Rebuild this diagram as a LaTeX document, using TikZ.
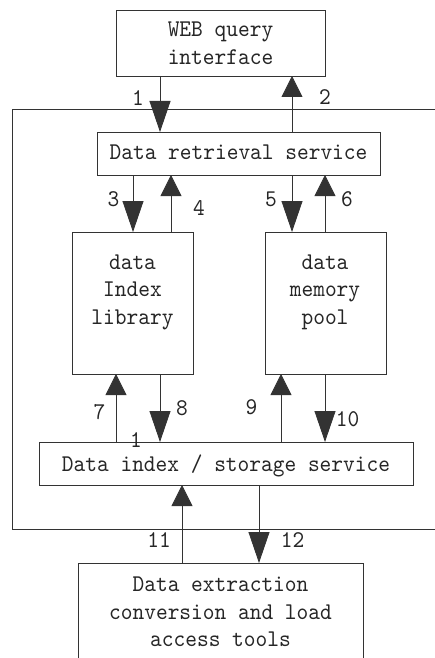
\documentclass[tikz,border=0pt]{standalone}
\usepackage{fontspec}
\usetikzlibrary{arrows.meta}
\newfontfamily\diagfont{lmmono10-regular.otf}[FakeStretch=0.93]

\tikzset{
  box/.style={draw=black!80, line width=0.8pt, rectangle, inner sep=0pt, outer sep=0pt, anchor=north west},
  txt/.style={inner sep=0pt, align=center, text=black!85, font=\diagfont\fontsize{24}{27.5}\selectfont},
  num/.style={inner sep=0pt, text=black!85, font=\diagfont\fontsize{24}{27.5}\selectfont},
  wire/.style={draw=black!80, line width=0.8pt},
  dn/.style={wire, -{Triangle[length=31pt, width=21pt]}},
  up/.style={wire, -{Triangle[length=21pt, width=21pt]}},
}

\begin{document}
\begin{tikzpicture}[x=1pt, y=-1pt]
  \useasboundingbox (0,0) rectangle (435,658);
  \clip (0,0) rectangle (435,658);

  % outer service frame, open towards the right edge
  \draw[wire] (440,109) -- (12,109) -- (12,529) -- (440,529);

  % boxes
  \node[box, minimum width=209pt, minimum height=66pt]  (web) at (116,10)  {};
  \node[box, minimum width=283pt, minimum height=43pt]  (ret) at (97,132)  {};
  \node[box, minimum width=121pt, minimum height=142pt] (lib) at (72,232)  {};
  \node[box, minimum width=121pt, minimum height=142pt] (mem) at (265,232) {};
  \node[box, minimum width=374pt, minimum height=43pt]  (sto) at (39,442)  {};
  \node[box, minimum width=285pt, minimum height=130pt] (etl) at (78,563)  {};

  % box texts
  \node[txt] (webtxt) at (220.5,43)   {WEB query\\interface};
  \node[txt] (rettxt) at (238.5,152.5) {Data retrieval service};
  \node[txt] (libtxt) at (132.5,292)  {data\\Index\\library};
  \node[txt] (memtxt) at (325,292)    {data\\memory\\pool};
  \node[txt] (stotxt) at (226,465.5)  {Data index / storage service};
  \node[txt] (etltxt) at (220.5,612)  {Data extraction\\conversion and load\\access tools};

  % connector columns
  \coordinate (c1)  at (160,0);
  \coordinate (c2)  at (292,0);
  \coordinate (c3)  at (133,0);
  \coordinate (c4)  at (171,0);
  \coordinate (c5)  at (292,0);
  \coordinate (c6)  at (325,0);
  \coordinate (c7)  at (116,0);
  \coordinate (c8)  at (160,0);
  \coordinate (c9)  at (281,0);
  \coordinate (c10) at (325,0);
  \coordinate (c11) at (182,0);
  \coordinate (c12) at (259,0);

  % connectors
  \draw[dn] (web.south -| c1)  -- (ret.north -| c1);
  \draw[up] (ret.north -| c2)  -- (web.south -| c2);
  \draw[dn] (ret.south -| c3)  -- (lib.north -| c3);
  \draw[up] (lib.north -| c4)  -- (ret.south -| c4);
  \draw[dn] (ret.south -| c5)  -- (mem.north -| c5);
  \draw[up] (mem.north -| c6)  -- (ret.south -| c6);
  \draw[up] (sto.north -| c7)  -- (lib.south -| c7);
  \draw[dn] (lib.south -| c8)  -- (sto.north -| c8);
  \draw[up] (sto.north -| c9)  -- (mem.south -| c9);
  \draw[dn] (mem.south -| c10) -- (sto.north -| c10);
  \draw[up] (etl.north -| c11) -- (sto.south -| c11);
  \draw[dn] (sto.south -| c12) -- (etl.north -| c12);

  % connector numbers
  \node[num] (n1)  at (138,98)     {1};
  \node[num] (n2)  at (325,97.5)   {2};
  \node[num] (n3)  at (113.5,199)  {3};
  \node[num] (n4)  at (199,208)    {4};
  \node[num] (n5)  at (271,199)    {5};
  \node[num] (n6)  at (347,199)    {6};
  \node[num] (n7)  at (99.5,412.5) {7};
  \node[num] (n8)  at (182,408)    {8};
  \node[num] (n9)  at (251.5,407.5){9};
  \node[num] (n10) at (347.5,419)  {10};
  \node[num] (n1b) at (136,440)    {1};
  \node[num] (n11) at (159,540.5)  {11};
  \node[num] (n12) at (292.5,540.5){12};
\end{tikzpicture}
\end{document}
